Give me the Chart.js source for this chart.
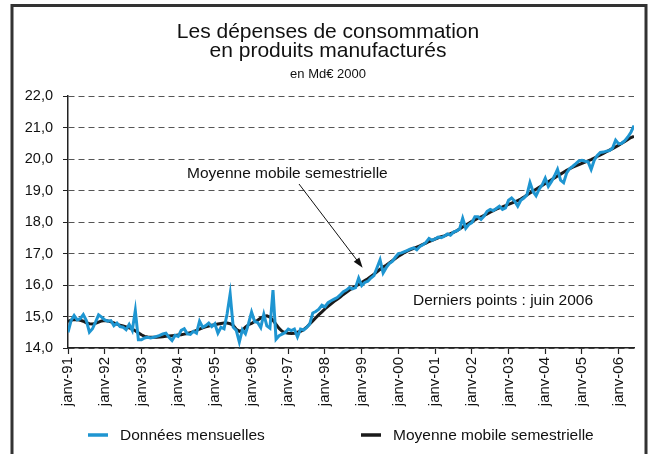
<!DOCTYPE html>
<html>
<head>
<meta charset="utf-8">
<script src="https://cdn.jsdelivr.net/npm/chart.js@4.4.1/dist/chart.umd.min.js"></script>
<style>
html,body{margin:0;padding:0;background:#fff}
#wrap{width:656px;height:454px}
</style>
</head>
<body>
<div id="wrap"><canvas id="c" width="656" height="454"></canvas></div>
<script>

/* ===== DONNÉES ===== */

const title = ["Les dépenses de consommation","en produits manufacturés"]
const subtitle = "en Md€ 2000"
const seriesNames = ["Données mensuelles","Moyenne mobile semestrielle"]
const noteLast = "Derniers points : juin 2006"

const yearLabels = ["janv-91","janv-92","janv-93","janv-94","janv-95","janv-96","janv-97","janv-98",
"janv-99","janv-00","janv-01","janv-02","janv-03","janv-04","janv-05","janv-06"]

const yTicks = [14,15,16,17,18,19,20,21,22]

// données mensuelles, janv-91 -> juin-06
const monthly = [
14.50,14.87,15.03,14.89,14.93,15.06,14.87,14.50,14.61,14.82,15.05,14.98,
14.89,14.85,14.87,14.71,14.79,14.68,14.66,14.58,14.75,14.56,15.19,14.26,
14.26,14.32,14.34,14.32,14.34,14.37,14.40,14.45,14.47,14.34,14.24,14.40,
14.37,14.56,14.61,14.45,14.43,14.53,14.47,14.85,14.66,14.71,14.79,14.68,
14.77,14.47,14.66,14.61,15.08,15.72,14.66,14.56,14.19,14.58,14.45,14.77,
15.14,14.84,14.81,14.65,15.07,14.70,14.63,15.84,14.28,14.39,14.44,14.49,
14.60,14.55,14.60,14.35,14.60,14.57,14.65,14.76,15.11,15.16,15.23,15.36,
15.31,15.44,15.50,15.55,15.60,15.69,15.79,15.84,15.92,15.88,15.92,16.22,
15.98,16.08,16.12,16.22,16.30,16.55,16.80,16.38,16.55,16.68,16.75,16.88,
17.00,17.02,17.06,17.10,17.15,17.18,17.12,17.22,17.28,17.35,17.48,17.42,
17.46,17.52,17.50,17.55,17.62,17.58,17.68,17.72,17.78,18.12,17.80,17.92,
17.98,18.17,18.17,18.08,18.19,18.34,18.40,18.36,18.43,18.50,18.40,18.45,
18.69,18.76,18.66,18.50,18.69,18.76,18.86,19.25,18.97,18.83,19.04,19.18,
19.39,19.13,19.28,19.46,19.67,19.33,19.25,19.56,19.70,19.77,19.85,19.94,
19.96,19.93,19.91,19.67,19.96,20.11,20.21,20.22,20.25,20.27,20.35,20.60,
20.48,20.50,20.58,20.70,20.85,21.06
]

// moyenne mobile semestrielle
const movingAvg = [
14.85,14.88,14.90,14.90,14.88,14.85,14.80,14.77,14.76,14.78,14.82,14.86,
14.87,14.86,14.83,14.80,14.76,14.72,14.70,14.67,14.64,14.60,14.55,14.48,
14.42,14.37,14.35,14.34,14.34,14.34,14.35,14.36,14.37,14.38,14.39,14.40,
14.41,14.42,14.44,14.46,14.49,14.52,14.56,14.60,14.64,14.67,14.70,14.72,
14.74,14.76,14.78,14.79,14.79,14.77,14.72,14.60,14.53,14.56,14.66,14.74,
14.78,14.84,14.88,14.95,15.00,15.02,14.98,14.88,14.75,14.62,14.53,14.49,
14.47,14.46,14.47,14.50,14.53,14.58,14.66,14.76,14.86,14.96,15.06,15.15,
15.24,15.32,15.40,15.48,15.55,15.62,15.70,15.77,15.84,15.90,15.96,16.02,
16.08,16.14,16.20,16.27,16.34,16.42,16.50,16.57,16.63,16.70,16.77,16.84,
16.91,16.97,17.03,17.08,17.12,17.16,17.20,17.24,17.29,17.33,17.38,17.42,
17.46,17.50,17.53,17.56,17.60,17.63,17.67,17.72,17.78,17.84,17.90,17.96,
18.02,18.07,18.12,18.16,18.21,18.26,18.31,18.36,18.41,18.45,18.48,18.52,
18.56,18.60,18.64,18.68,18.73,18.79,18.86,18.92,18.98,19.04,19.10,19.16,
19.22,19.28,19.34,19.40,19.46,19.52,19.58,19.64,19.69,19.74,19.78,19.82,
19.86,19.90,19.94,19.98,20.03,20.08,20.13,20.18,20.23,20.28,20.33,20.38,
20.44,20.50,20.56,20.62,20.68,20.72
]

const BLUE = "#1e95d1"
const BLACK = "#1a1a1a"
const FONT = "'Liberation Sans', Arial, Helvetica, sans-serif"

Chart.defaults.font.family = FONT
Chart.defaults.color = "#111"

/* ===== TITRES, FLÈCHE, LÉGENDE ===== */

const decor = {

id:"decor",

afterDraw(chart){

const {ctx, scales:{x,y}} = chart

ctx.save()

// cadre
ctx.strokeStyle="#333"
ctx.lineWidth=3
ctx.strokeRect(12,5.5,634,480)

ctx.fillStyle="#111"
ctx.textAlign="center"
ctx.textBaseline="alphabetic"
ctx.font="21px "+FONT
ctx.fillText(title[0],328,38)
ctx.fillText(title[1],328,57)
ctx.font="13px "+FONT
ctx.fillText(subtitle,328,78)

// annotations
ctx.textAlign="left"
ctx.font="15.5px "+FONT
ctx.fillText(seriesNames[1],187,178)
ctx.fillText(noteLast,413,305)

// flèche vers la moyenne mobile
const sx=299, sy=184
const tx=x.getPixelForValue(96.3), ty=y.getPixelForValue(16.55)
const a=Math.atan2(ty-sy,tx-sx)
ctx.strokeStyle="#111"
ctx.lineWidth=1
ctx.beginPath()
ctx.moveTo(sx,sy)
ctx.lineTo(tx-8*Math.cos(a),ty-8*Math.sin(a))
ctx.stroke()
ctx.beginPath()
ctx.moveTo(tx,ty)
ctx.lineTo(tx-10*Math.cos(a)+3.5*Math.sin(a),ty-10*Math.sin(a)-3.5*Math.cos(a))
ctx.lineTo(tx-10*Math.cos(a)-3.5*Math.sin(a),ty-10*Math.sin(a)+3.5*Math.cos(a))
ctx.closePath()
ctx.fill()

// légende
const items=[{x:88,color:BLUE,text:seriesNames[0]},{x:361,color:BLACK,text:seriesNames[1]}]
ctx.textBaseline="middle"
items.forEach(it=>{
ctx.strokeStyle=it.color
ctx.lineWidth=3.5
ctx.beginPath()
ctx.moveTo(it.x,435)
ctx.lineTo(it.x+20,435)
ctx.stroke()
ctx.fillStyle="#111"
ctx.fillText(it.text,it.x+32,436)
})

ctx.restore()

}

}

/* ===== CHART ===== */

new Chart(document.getElementById("c"),{

type:"line",

data:{
datasets:[
{
label:seriesNames[0],
data:monthly.map((v,i)=>({x:i,y:v})),
borderColor:BLUE,
borderWidth:3,
pointRadius:0,
tension:0
},
{
label:seriesNames[1],
data:movingAvg.map((v,i)=>({x:i,y:v})),
borderColor:BLACK,
borderWidth:3,
pointRadius:0,
tension:0
}
]
},

options:{

responsive:false,
animation:false,
devicePixelRatio:1,

layout:{padding:{top:96,right:22,bottom:0,left:0}},

plugins:{
legend:{display:false},
title:{display:false},
tooltip:{enabled:false}
},

scales:{

x:{
type:"linear",
min:0,
max:monthly.length-1,
afterBuildTicks(scale){ scale.ticks=yearLabels.map((l,i)=>({value:i*12})) },
afterFit(scale){ scale.height=106 },
grid:{drawOnChartArea:false,tickLength:6,tickColor:"#222",tickWidth:1.2},
border:{color:"#222",width:1.5},
ticks:{
autoSkip:false,
minRotation:90,
maxRotation:90,
padding:3,
color:"#111",
font:{size:15},
callback:(v,i)=>yearLabels[i]
}
},

y:{
min:yTicks[0],
max:yTicks[yTicks.length-1],
afterBuildTicks(scale){ scale.ticks=yTicks.map(v=>({value:v})) },
afterFit(scale){ scale.width=68 },
grid:{color:"#555",lineWidth:1,tickLength:5,tickColor:"#222"},
border:{color:"#222",width:1.5,dash:[6,4]},
ticks:{
padding:10,
color:"#111",
font:{size:14.5},
callback:v=>v.toFixed(1).replace(".",",")
}
}

}

},

plugins:[decor]

})

</script>
</body>
</html>
